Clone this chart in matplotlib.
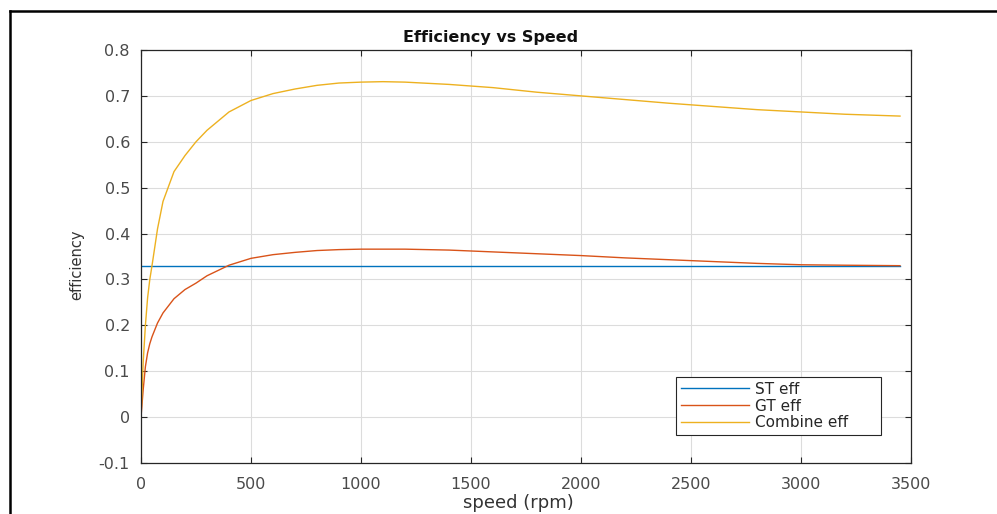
import matplotlib
matplotlib.use("Agg")
import matplotlib.pyplot as plt
from matplotlib.lines import Line2D

speed = [0, 10, 20, 30, 40, 50, 75, 100, 150, 200, 250, 300, 400, 500, 600, 700,
         800, 900, 1000, 1100, 1200, 1400, 1600, 1800, 2000, 2200, 2400, 2600,
         2800, 3000, 3200, 3450]
st_eff = [0.33] * len(speed)
gt_eff = [0.0, 0.06, 0.11, 0.14, 0.16, 0.175, 0.205, 0.227, 0.258, 0.278, 0.292,
          0.308, 0.331, 0.346, 0.354, 0.359, 0.363, 0.365, 0.366, 0.366, 0.366,
          0.364, 0.36, 0.356, 0.352, 0.347, 0.343, 0.339, 0.335, 0.332, 0.331, 0.33]
comb_eff = [0.0, 0.12, 0.2, 0.26, 0.30, 0.33, 0.41, 0.47, 0.535, 0.57, 0.60, 0.625,
            0.665, 0.69, 0.705, 0.715, 0.723, 0.728, 0.73, 0.731, 0.73, 0.725,
            0.718, 0.708, 0.70, 0.692, 0.684, 0.677, 0.670, 0.665, 0.660, 0.656]
labels = ["ST eff", "GT eff", "Combine eff"]
xticks = [0, 500, 1000, 1500, 2000, 2500, 3000, 3500]
yticks = [-0.1, 0, 0.1, 0.2, 0.3, 0.4, 0.5, 0.6, 0.7, 0.8]
ytick_labels = ["-0.1", "0", "0.1", "0.2", "0.3", "0.4", "0.5", "0.6", "0.7", "0.8"]

plt.rcParams['font.family'] = ['DejaVu Sans']

W, H = 997, 514
fig = plt.figure(figsize=(W / 100, H / 100), dpi=100)
ax = fig.add_axes([141 / W, 1 - 463 / H, 770 / W, 413 / H])

colors = ['#0072BD', '#D95319', '#EDB120']
ax.plot(speed, st_eff, color=colors[0], lw=1.0, label=labels[0])
ax.plot(speed, gt_eff, color=colors[1], lw=1.0, label=labels[1])
ax.plot(speed, comb_eff, color=colors[2], lw=1.0, label=labels[2])

ax.set_xlim(0, 3500)
ax.set_ylim(-0.1, 0.8)
ax.set_xticks(xticks)
ax.set_yticks(yticks)
ax.set_yticklabels(ytick_labels)
ax.grid(True, color='#dcdcdc', lw=0.8)
ax.set_axisbelow(True)
ax.tick_params(direction='in', top=True, right=True, length=4.5, width=0.8,
               colors='#262626', labelcolor='#4a4a4a', labelsize=11.5)
ax.tick_params(axis='x', pad=10)
ax.tick_params(axis='y', pad=8)
for s in ax.spines.values():
    s.set_color('#262626')
    s.set_linewidth(0.9)

fig.text(491 / W, 1 - 42 / H, "Efficiency vs Speed", fontsize=11.5,
         fontweight='bold', color='#111111', ha='center', va='baseline')
fig.text(518 / W, 2 / H, "speed (rpm)", fontsize=13, color='#333333',
         ha='center', va='bottom')
ax.set_ylabel("efficiency", fontsize=10.5, color='#333333')
ax.yaxis.set_label_coords((84 - 141) / 770, 0.48)

leg = ax.legend(loc='lower left', bbox_to_anchor=((676 - 141) / 770, (463 - 435) / 413,
                                                  205 / 770, 0.15),
                mode='expand', borderaxespad=0,
                fontsize=11, handlelength=4.5, handletextpad=0.35, labelspacing=0.12,
                fancybox=False, framealpha=1, edgecolor='#262626', borderpad=0.3)
leg.get_frame().set_linewidth(0.8)
for t in leg.get_texts():
    t.set_color('#262626')

fig.add_artist(Line2D([10 / W, 10 / W], [0, 1 - 11 / H], color='black', lw=1.8,
                      transform=fig.transFigure))
fig.add_artist(Line2D([10 / W, 1], [1 - 11 / H, 1 - 11 / H], color='black', lw=1.8,
                      transform=fig.transFigure))

fig.savefig("out.png", dpi=100)
